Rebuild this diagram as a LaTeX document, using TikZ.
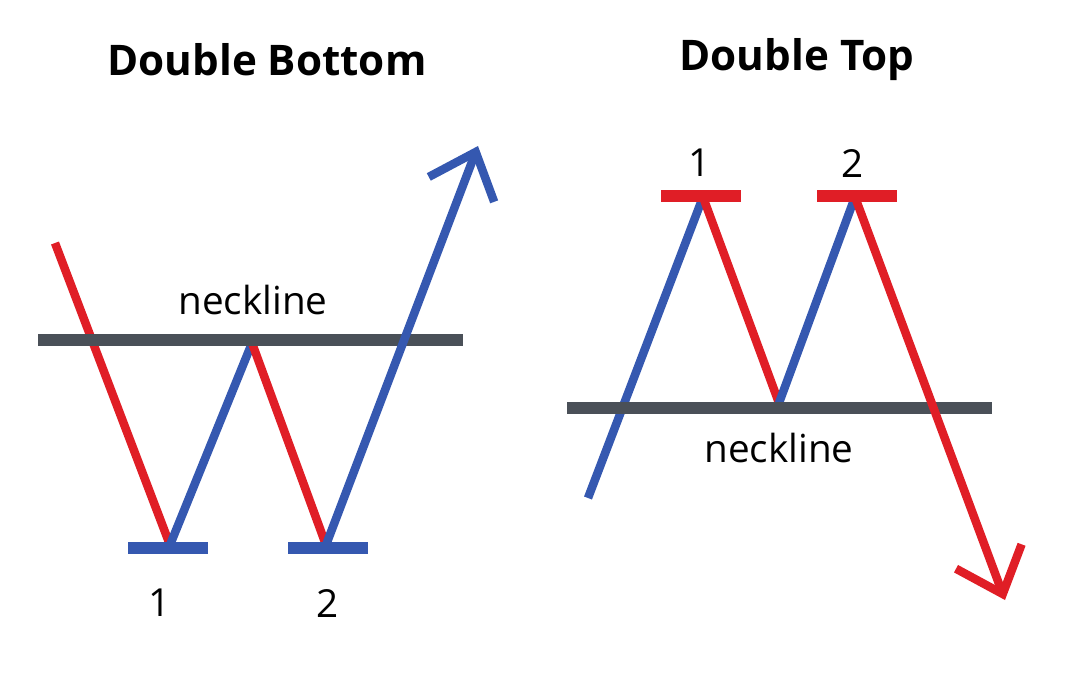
\documentclass[tikz,border=0pt]{standalone}
\usepackage{fontspec}
\setmainfont{Open Sans}
\usepackage{tikz}
\usetikzlibrary{arrows.meta}
\definecolor{upc}{RGB}{53,88,176}
\definecolor{downc}{RGB}{224,30,38}
\definecolor{neckc}{RGB}{74,80,88}

\begin{document}
\begin{tikzpicture}[x=0.02cm,y=-0.02cm,
  leg/.style={line width=8.5pt*0.567,line cap=butt},
  bar/.style={line width=12pt*0.567},
  tip/.style={-{Straight Barb[length=0.8cm,width=1.4cm,line join=miter]}},
  lbl/.style={font=\fontsize{22}{24}\selectfont},
  ttl/.style={font=\bfseries\fontsize{24}{28}\selectfont}]
  \useasboundingbox (0,0) rectangle (1080,674);
  % double bottom
  \node[ttl] (tb) at (267,60) {Double Bottom};
  \coordinate (b0) at (55,243); \coordinate (b1) at (170,545);
  \coordinate (b2) at (252,343); \coordinate (b3) at (326,545);
  \coordinate (b4) at (478,146);
  \coordinate (nl0) at (38,340); \coordinate (nl1) at (463,340);
  \draw[leg,downc] (b0) -- (b1);
  \draw[leg,upc] (b1) -- (b2);
  \draw[leg,downc] (b2) -- (b3);
  \draw[bar,neckc] (nl0) -- (nl1);
  \draw[leg,upc,tip] (b3) -- (b4);
  \draw[bar,upc] (128,548) -- (208,548); \draw[bar,upc] (288,548) -- (368,548);
  \node[lbl] (nb) at (253,300) {neckline};
  \node[lbl] (p1) at (160,603) {1}; \node[lbl] (p2) at (328,603) {2};
  % double top
  \node[ttl] (tt) at (797,60) {Double Top};
  \coordinate (t0) at (588,498); \coordinate (t1) at (703,197);
  \coordinate (t2) at (779,403); \coordinate (t3) at (855,197);
  \coordinate (t4) at (1005,600);
  \coordinate (nr0) at (567,408); \coordinate (nr1) at (992,408);
  \draw[leg,upc] (t0) -- (t1);
  \draw[leg,downc] (t1) -- (t2);
  \draw[leg,upc] (t2) -- (t3);
  \draw[bar,neckc] (nr0) -- (nr1);
  \draw[leg,downc,tip] (t3) -- (t4);
  \draw[bar,downc] (661,196) -- (741,196); \draw[bar,downc] (817,196) -- (897,196);
  \node[lbl] (nt) at (779,448) {neckline};
  \node[lbl] (q1) at (700,163) {1}; \node[lbl] (q2) at (853,163) {2};
\end{tikzpicture}
\end{document}
